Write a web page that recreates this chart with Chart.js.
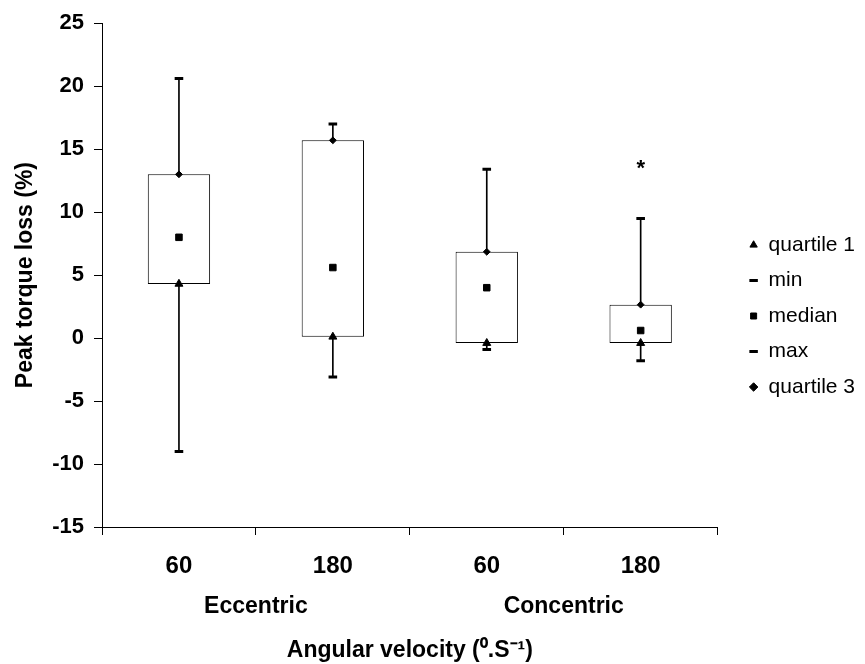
<!DOCTYPE html>
<html>
<head>
<meta charset="utf-8">
<script src="https://cdn.jsdelivr.net/npm/chart.js@4/dist/chart.umd.min.js"></script>
<style>
html,body{margin:0;padding:0;background:#fff;}
#wrap{width:865px;height:664px;}
</style>
</head>
<body>
<div id="wrap"><canvas id="c" width="865" height="664"></canvas></div>
<script>
// ---- data ----
const categories = ['60', '180', '60', '180'];
const groups = ['Eccentric', 'Concentric'];
const quartile1 = [4.3, 0.1, -0.4, -0.4];
const minimum   = [-9.0, -3.1, -0.9, -1.8];
const median    = [8.0, 5.6, 4.0, 0.6];
const maximum   = [20.6, 17.0, 13.4, 9.5];
const quartile3 = [13.0, 15.7, 6.85, 2.65];
const significance = [null, null, null, 13.8];
const yMin = -15, yMax = 25, yStep = 5;

const FONT = '"Liberation Sans", Arial, sans-serif';
Chart.defaults.font.family = FONT;
Chart.defaults.color = '#000';

function pointSet(label, data, style, radius, bw) {
  return {
    type: 'line', label: label, data: data, showLine: false,
    pointStyle: style, pointRadius: radius, pointHoverRadius: radius,
    pointBackgroundColor: '#000', pointBorderColor: '#000', pointBorderWidth: bw,
    backgroundColor: '#000', borderColor: '#000', order: 0
  };
}

const sigPlugin = {
  id: 'sig',
  afterDatasetsDraw(chart) {
    const ctx = chart.ctx, x = chart.scales.x, y = chart.scales.y;
    ctx.save();
    ctx.font = 'bold 22px ' + FONT;
    ctx.fillStyle = '#000';
    ctx.textAlign = 'center';
    ctx.textBaseline = 'middle';
    significance.forEach((v, i) => {
      if (v === null) return;
      ctx.fillText('*', x.getPixelForValue(i), y.getPixelForValue(v) + 5);
    });
    ctx.restore();
  }
};

new Chart(document.getElementById('c'), {
  type: 'bar',
  data: {
    labels: categories,
    datasets: [
      pointSet('quartile 1', quartile1, 'triangle', 4.6, 1),
      pointSet('min', minimum, 'line', 4.3, 3),
      pointSet('median', median, 'rect', 4.6, 1),
      pointSet('max', maximum, 'line', 4.3, 3),
      pointSet('quartile 3', quartile3, 'rectRot', 3.4, 1),
      {
        type: 'bar', label: 'box',
        data: quartile1.map((v, i) => [v, quartile3[i]]),
        backgroundColor: '#fff', borderColor: '#000', borderWidth: 1,
        borderSkipped: false, barPercentage: 0.405, categoryPercentage: 1,
        grouped: false, order: 1
      },
      {
        type: 'bar', label: 'whisker',
        data: minimum.map((v, i) => [v, maximum[i]]),
        backgroundColor: '#000', borderWidth: 0, barThickness: 1,
        grouped: false, order: 2
      }
    ]
  },
  options: {
    responsive: false,
    animation: false,
    devicePixelRatio: 1,
    layout: { padding: { top: 20, left: 0, right: 0, bottom: 0 } },
    plugins: {
      tooltip: { enabled: false },
      legend: {
        position: 'right',
        align: 'start',
        title: { display: true, text: ' ', font: { size: 10 }, padding: { top: 188, bottom: 0 } },
        labels: {
          usePointStyle: true,
          boxWidth: 9, boxHeight: 6,
          padding: 14.5,
          color: '#000',
          font: { size: 21, family: FONT },
          filter: (item) => item.text !== 'box' && item.text !== 'whisker'
        }
      }
    },
    scales: {
      x: {
        type: 'category', offset: true, position: 'bottom',
        grid: { display: true, drawOnChartArea: false, drawTicks: true, tickLength: 8, color: '#000', offset: true },
        border: { display: true, color: '#000', width: 1 },
        ticks: { font: { size: 24, weight: 'bold' }, color: '#000', padding: 17, maxRotation: 0, autoSkip: false },
        afterFit: (s) => { s.height = 58; }
      },
      x2: {
        type: 'category', labels: groups, offset: true, position: 'bottom',
        grid: { display: false }, border: { display: false },
        ticks: { font: { size: 23, weight: 'bold' }, color: '#000', padding: 0, maxRotation: 0, autoSkip: false },
        title: { display: true, text: 'Angular velocity (\u2070.S\u207B\u00B9)', color: '#000',
                 font: { size: 23, weight: 'bold' }, padding: { top: 0, bottom: 0 } },
        afterFit: (s) => { s.height = 79; }
      },
      y: {
        min: yMin, max: yMax,
        ticks: { stepSize: yStep, font: { size: 22, weight: 'bold' }, color: '#000', padding: 10 },
        grid: { display: true, drawOnChartArea: false, drawTicks: true, tickLength: 8, color: '#000' },
        border: { display: true, color: '#000', width: 1 },
        title: { display: true, text: 'Peak torque loss (%)', color: '#000',
                 font: { size: 23, weight: 'bold' }, padding: { top: 12, bottom: 0 } },
        afterFit: (s) => { s.width = 102; }
      },
      yR: {
        position: 'right', display: true,
        grid: { display: false }, border: { display: false }, ticks: { display: false },
        afterFit: (s) => { s.width = 17; }
      }
    }
  },
  plugins: [sigPlugin]
});
</script>
</body>
</html>
